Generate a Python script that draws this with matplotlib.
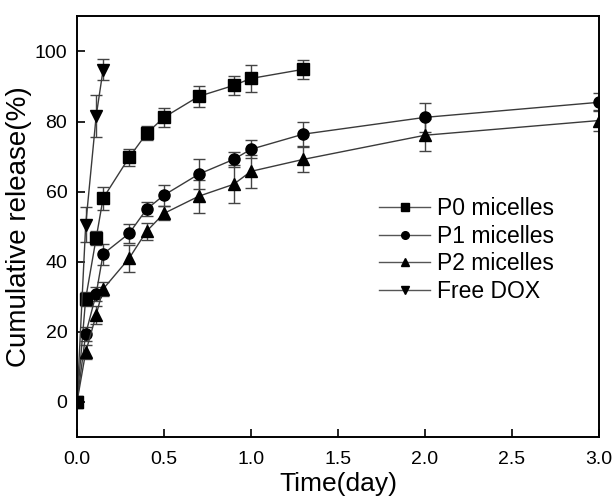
import numpy as np
import matplotlib
matplotlib.use('Agg')
from matplotlib import pyplot as plt
from matplotlib.lines import Line2D

plt.rcParams['font.family'] = ['Liberation Sans', 'DejaVu Sans']

# release data (time in days, release in %)
t_p0 = [0, 0.05, 0.11, 0.15, 0.30, 0.40, 0.50, 0.70, 0.90, 1.00, 1.30]
p0 = [0, 29.5, 46.7, 58.1, 69.8, 76.6, 81.2, 87.2, 90.3, 92.3, 94.9]
p0_err = [0, 2.0, 2.0, 3.2, 2.5, 2.0, 2.8, 3.0, 2.7, 3.8, 2.8]

t_p12 = [0, 0.05, 0.11, 0.15, 0.30, 0.40, 0.50, 0.70, 0.90, 1.00, 1.30, 2.00, 3.00]
p1 = [0, 19.4, 30.8, 42.2, 48.1, 55.0, 59.0, 65.0, 69.2, 72.1, 76.4, 81.2, 85.5]
p1_err = [0, 2.0, 2.0, 3.0, 2.8, 2.0, 3.0, 4.3, 2.1, 2.5, 3.5, 4.2, 2.6]
p2 = [0, 14.2, 24.8, 32.2, 41.0, 48.7, 53.8, 58.7, 62.1, 65.8, 69.2, 76.1, 80.3]
p2_err = [0, 2.0, 2.5, 2.0, 3.8, 2.5, 2.0, 4.7, 5.4, 4.7, 3.5, 4.6, 3.0]

t_dox = [0, 0.05, 0.11, 0.15]
dox = [0, 50.5, 81.5, 94.8]
dox_err = [0, 5.0, 6.0, 3.0]

series = [
    (t_p0, p0, p0_err, 's', 'P0 micelles'),
    (t_p12, p1, p1_err, 'o', 'P1 micelles'),
    (t_p12, p2, p2_err, '^', 'P2 micelles'),
    (t_dox, dox, dox_err, 'v', 'Free DOX'),
]

fig = plt.figure(figsize=(6.13, 4.98), dpi=100)
ax = fig.add_axes([0.1256, 0.1225, 0.8515, 0.8445])

handles = []
for t, y, e, m, lab in series:
    ax.errorbar(t, y, yerr=e, fmt='-', marker=m, color='#3a3a3a', lw=1.0,
                mfc='black', mec='black', ms=8, ecolor='#444444',
                elinewidth=1.0, capsize=4, capthick=1.0)
    handles.append(Line2D([], [], color='#555555', lw=1.0, marker=m,
                          mfc='black', mec='black', ms=5.5, label=lab))

ax.set_xlim(0, 3.0)
ax.set_ylim(-10, 110)
ax.set_xticks(np.arange(0, 3.01, 0.5))
ax.set_yticks(np.arange(0, 101, 20))
ax.tick_params(direction='in', length=6, width=1.2, labelsize=14)
ax.tick_params(axis='x', pad=10)
ax.tick_params(axis='y', pad=7)
for s in ax.spines.values():
    s.set_linewidth(1.4)

ax.set_xlabel('Time(day)', fontsize=19, labelpad=3)
ax.set_ylabel('Cumulative release(%)', fontsize=20, labelpad=2)

ax.legend(handles=handles, loc='center left', bbox_to_anchor=(0.54, 0.445),
          frameon=False, fontsize=16.5, handlelength=2.2,
          handletextpad=0.3, labelspacing=0.2)

plt.savefig('out.png', dpi=100)
